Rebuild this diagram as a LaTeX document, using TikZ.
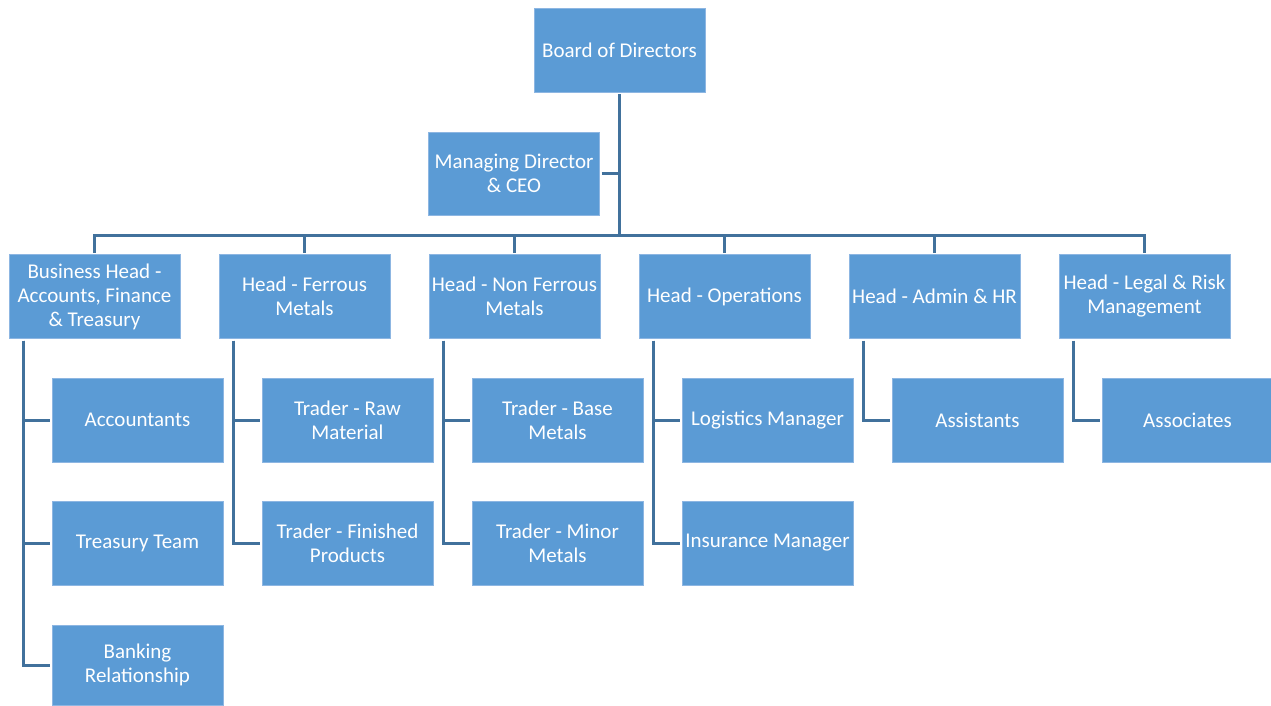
\documentclass[tikz,border=0pt]{standalone}
\usepackage{fontspec}
\setmainfont{Carlito}
\definecolor{boxfill}{HTML}{5B9BD5}
\definecolor{boxline}{HTML}{8DB6E2}
\definecolor{conn}{HTML}{41719C}
\begin{document}
\begin{tikzpicture}[x=1pt,y=-1pt,
  orgbox/.style={draw=boxline,line width=0.8pt,fill=boxfill,text=white,
    minimum width=171pt,minimum height=84pt,inner sep=0pt,outer sep=2pt,
    align=center,font=\fontsize{21}{24}\selectfont},
  link/.style={draw=conn,line width=3pt}]
\useasboundingbox (0,0) rectangle (1271,705);
% top
\node[orgbox] (board) at (619.5,50) {Board of Directors};
\node[orgbox,minimum height=83pt] (md) at (514,173.5) {Managing Director\\\& CEO};
% heads
\node[orgbox] (bh)  at (94.5,296.5) {Business Head -\\Accounts, Finance\\\& Treasury};
\node[orgbox] (hfm) at (304.5,296.5) {Head - Ferrous\\Metals};
\node[orgbox] (hnf) at (514.5,296.5) {Head - Non Ferrous\\Metals};
\node[orgbox] (hop) at (724.5,296.5) {Head - Operations};
\node[orgbox] (had) at (934.5,296.5) {Head - Admin \& HR};
\node[orgbox] (hlr) at (1144.5,296.5) {Head - Legal \& Risk\\Management};
% children
\node[orgbox] (acc) at (137.5,420) {Accountants};
\node[orgbox] (tre) at (137.5,543) {Treasury Team};
\node[orgbox,minimum height=80pt] (bank) at (137.5,665) {Banking\\Relationship};
\node[orgbox] (trm) at (347.5,420) {Trader - Raw\\Material};
\node[orgbox] (tfp) at (347.5,543) {Trader - Finished\\Products};
\node[orgbox] (tbm) at (557.5,420) {Trader - Base\\Metals};
\node[orgbox] (tmm) at (557.5,543) {Trader - Minor\\Metals};
\node[orgbox] (log) at (767.5,420) {Logistics Manager};
\node[orgbox] (ins) at (767.5,543) {Insurance Manager};
\node[orgbox] (asst) at (977.5,420) {Assistants};
\node[orgbox] (asso) at (1187.5,420) {Associates};
% connectors
\coordinate (bus) at (619.5,235);
\draw[link] (board.south) -- (bus);
\draw[link] (md.east) -- (md.east -| bus);
\draw[link] (bh.north) |- (hlr.north |- bus) -- (hlr.north);
\foreach \h in {hfm,hnf,hop,had}{
  \draw[link] (\h.north) -- (\h.north |- bus);
}
\foreach \p/\c in {bh/acc,bh/tre,bh/bank,hfm/trm,hfm/tfp,hnf/tbm,hnf/tmm,hop/log,hop/ins,had/asst,hlr/asso}{
  \draw[link] ([xshift=16pt]\p.south west) |- (\c.west);
}
\end{tikzpicture}
\end{document}
